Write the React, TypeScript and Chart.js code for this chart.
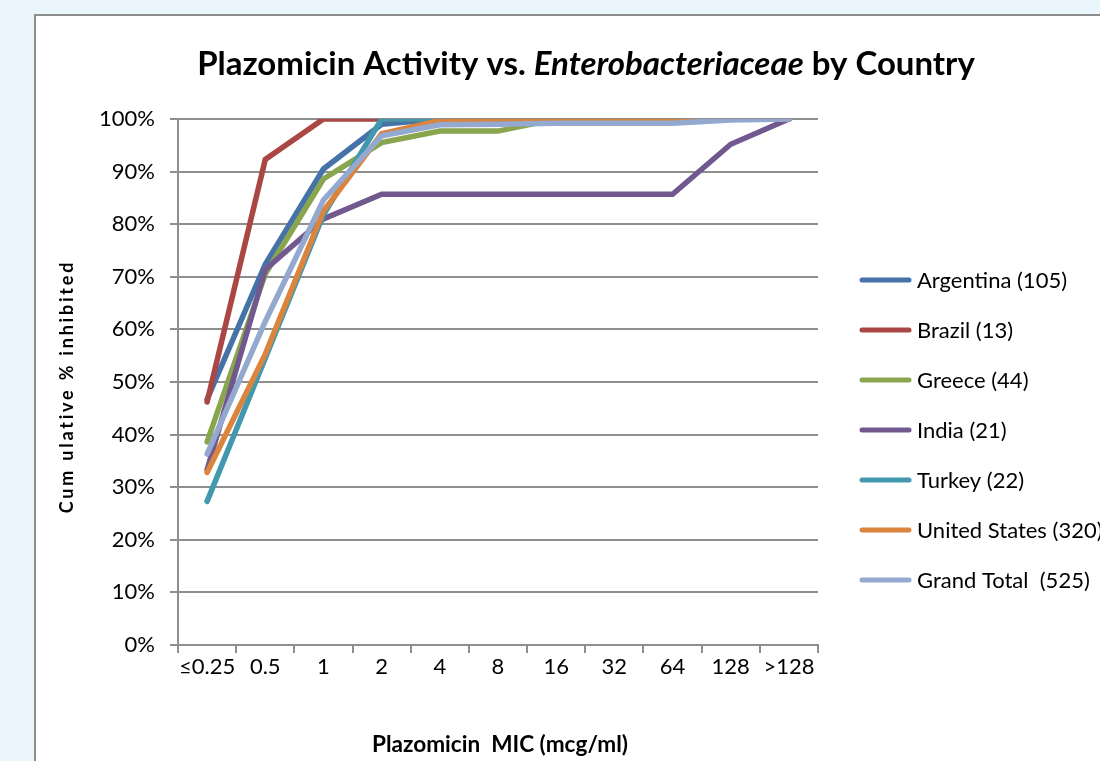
import React, { useEffect, useRef } from 'react';
import { Chart, registerables } from 'chart.js';

Chart.register(...registerables);

const categories = ['≤0.25', '0.5', '1', '2', '4', '8', '16', '32', '64', '128', '>128'];
const argentina = [46.7, 72.4, 90.5, 99.0, 100, 100, 100, 100, 100, 100, 100];
const brazil = [46.2, 92.3, 100, 100, 100, 100, 100, 100, 100, 100, 100];
const greece = [38.6, 70.5, 88.6, 95.5, 97.7, 97.7, 100, 100, 100, 100, 100];
const india = [33.3, 71.4, 81.0, 85.7, 85.7, 85.7, 85.7, 85.7, 85.7, 95.2, 100];
const turkey = [27.3, 54.5, 81.8, 100, 100, 100, 100, 100, 100, 100, 100];
const unitedStates = [32.8, 55.3, 82.5, 97.2, 99.7, 100, 100, 100, 100, 100, 100];
const grandTotal = [36.3, 61.5, 84.6, 96.8, 98.9, 99.0, 99.2, 99.2, 99.2, 99.8, 100];

const seriesLabels = [
  'Argentina (105)',
  'Brazil (13)',
  'Greece (44)',
  'India (21)',
  'Turkey (22)',
  'United States (320)',
  'Grand Total  (525)',
];
const seriesValues = [argentina, brazil, greece, india, turkey, unitedStates, grandTotal];
const seriesColors = ['#4572A7', '#AA4643', '#89A54E', '#71588F', '#4198AF', '#DB843D', '#93A9CF'];

const titleParts = [
  { text: 'Plazomicin Activity vs. ', italic: false },
  { text: 'Enterobacteriaceae', italic: true },
  { text: ' by Country', italic: false },
];
const xTitle = 'Plazomicin  MIC (mcg/ml)';
const yTitle = 'Cum ulative % inhibited';

const FAMILY = 'Lato, "Open Sans", "DejaVu Sans", sans-serif';
const GRID = '#8E8E8E';

const decorPlugin = {
  id: 'decor',
  afterDraw(chart: any) {
    const ctx = chart.ctx as CanvasRenderingContext2D;
    ctx.save();
    ctx.fillStyle = '#000';

    // Title (mixed styles)
    const font = (it: boolean, s: number) => `${it ? 'italic ' : ''}bold ${s}px ${FAMILY}`;
    const base = 32;
    let w = 0;
    titleParts.forEach((p) => {
      ctx.font = font(p.italic, base);
      w += ctx.measureText(p.text).width;
    });
    const size = (base * 778) / w;
    let total = 0;
    titleParts.forEach((p) => {
      ctx.font = font(p.italic, size);
      total += ctx.measureText(p.text).width;
    });
    let x = 586 - total / 2;
    ctx.textBaseline = 'alphabetic';
    ctx.textAlign = 'left';
    titleParts.forEach((p) => {
      ctx.font = font(p.italic, size);
      ctx.fillText(p.text, x, 75);
      x += ctx.measureText(p.text).width;
    });

    // X axis title
    ctx.font = `bold 22px ${FAMILY}`;
    const xw = ctx.measureText(xTitle).width;
    const xs = (22 * 256) / xw;
    ctx.font = `bold ${xs}px ${FAMILY}`;
    ctx.textAlign = 'center';
    ctx.fillText(xTitle, 500, 752);

    // Y axis title
    ctx.save();
    ctx.translate(67, 388);
    ctx.rotate(-Math.PI / 2);
    ctx.font = `bold 18px ${FAMILY}`;
    const yw = ctx.measureText(yTitle).width;
    const spacing = Math.max(0, (251 - yw) / (yTitle.length - 1));
    (ctx as any).letterSpacing = `${spacing}px`;
    ctx.textAlign = 'center';
    ctx.textBaseline = 'middle';
    ctx.fillText(yTitle, spacing / 2, 0);
    ctx.restore();

    // Legend
    const ds = chart.data.datasets;
    ctx.font = `22px ${FAMILY}`;
    ctx.textAlign = 'left';
    ctx.textBaseline = 'middle';
    ds.forEach((d: any, i: number) => {
      const y = 280 + i * 50;
      ctx.strokeStyle = d.borderColor;
      ctx.lineWidth = 5;
      ctx.lineCap = 'round';
      ctx.beginPath();
      ctx.moveTo(862, y);
      ctx.lineTo(909, y);
      ctx.stroke();
      ctx.fillStyle = '#000';
      ctx.fillText(d.label, 917, y + 1);
    });
    ctx.restore();
  },
};

export default function App() {
  const ref = useRef<HTMLCanvasElement>(null);

  useEffect(() => {
    if (!ref.current) return;
    const chart = new Chart(ref.current, {
      type: 'line',
      data: {
        labels: categories,
        datasets: seriesValues.map((vals, i) => ({
          label: seriesLabels[i],
          data: vals,
          borderColor: seriesColors[i],
          backgroundColor: seriesColors[i],
          borderWidth: 5.5,
          pointRadius: 0,
          pointHoverRadius: 0,
          borderCapStyle: 'round' as const,
          borderJoinStyle: 'miter' as const,
          tension: 0,
          order: seriesValues.length - i,
        })),
      },
      options: {
        animation: false,
        responsive: false,
        maintainAspectRatio: false,
        layout: { padding: { left: 0, top: 119, right: 282, bottom: 76 } },
        plugins: {
          legend: { display: false },
          title: { display: false },
          tooltip: { enabled: false },
        },
        scales: {
          x: {
            offset: true,
            grid: {
              offset: true,
              drawOnChartArea: false,
              drawTicks: true,
              tickLength: 8,
              color: GRID,
              lineWidth: 2,
            },
            border: { display: true, color: GRID, width: 2 },
            ticks: {
              color: '#000',
              font: { family: FAMILY, size: 22 },
              padding: 1,
              maxRotation: 0,
              autoSkip: false,
            },
            afterFit: (scale: any) => {
              scale.height = 40;
            },
          },
          y: {
            min: 0,
            max: 100,
            grid: { color: GRID, lineWidth: 2, tickLength: 8, drawTicks: true },
            border: { display: true, color: GRID, width: 2 },
            ticks: {
              stepSize: 10,
              color: '#000',
              font: { family: FAMILY, size: 22 },
              padding: 15,
              callback: (v: any) => `${v}%`,
            },
            afterFit: (scale: any) => {
              scale.width = 178;
            },
          },
        },
      },
      plugins: [decorPlugin],
    });
    return () => chart.destroy();
  }, []);

  return (
    <div
      style={{
        position: 'fixed',
        left: 0,
        top: 0,
        width: 1100,
        height: 761,
        background: '#EAF5FC',
        overflow: 'hidden',
      }}
    >
      <div
        style={{
          position: 'absolute',
          left: 34,
          top: 14,
          width: 1100,
          height: 800,
          background: '#fff',
          border: '2px solid #8E8E8E',
          boxSizing: 'border-box',
        }}
      />
      <canvas
        ref={ref}
        width={1100}
        height={761}
        style={{ position: 'absolute', left: 0, top: 0, width: 1100, height: 761 }}
      />
    </div>
  );
}
